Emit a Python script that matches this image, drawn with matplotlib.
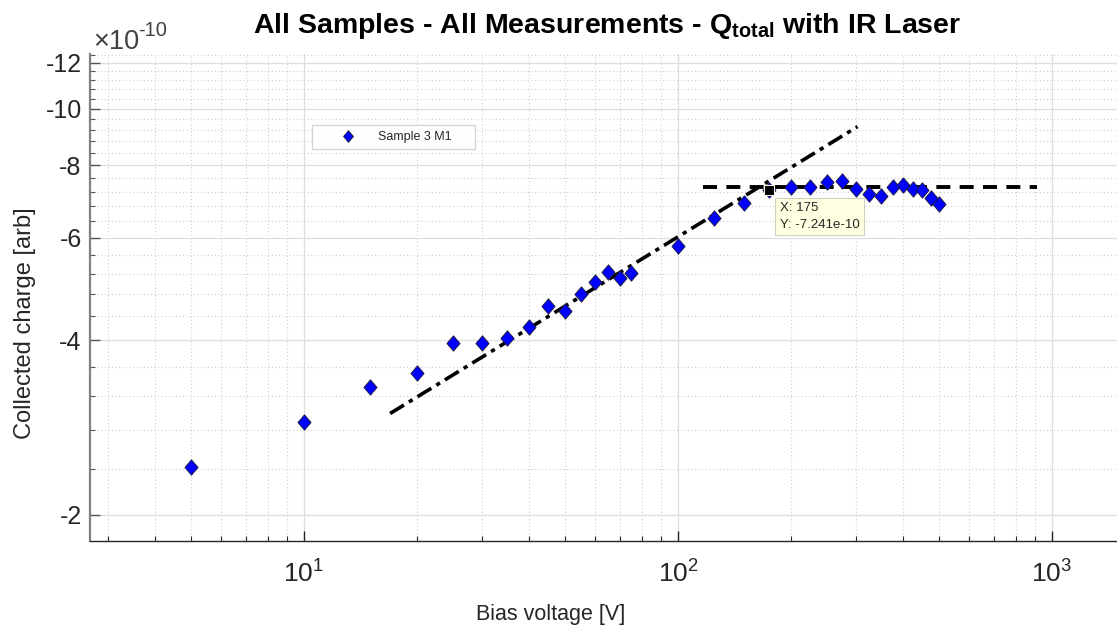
import numpy as np
import matplotlib
matplotlib.use("Agg")
import matplotlib.pyplot as plt
from matplotlib.ticker import FuncFormatter, NullFormatter, LogLocator, FixedLocator
from matplotlib.path import Path

plt.rcParams['font.family'] = ['Liberation Sans', 'DejaVu Sans']
plt.rcParams['mathtext.fontset'] = 'custom'
plt.rcParams['mathtext.rm'] = 'Liberation Sans'
plt.rcParams['mathtext.bf'] = 'Liberation Sans:bold'
plt.rcParams['mathtext.it'] = 'Liberation Sans:italic'

# ---------------- data ----------------
bias_voltage = [5, 10, 15, 20, 25, 30, 35, 40, 45, 50, 55, 60, 65, 70, 75,
                100, 125, 150, 175, 200, 225, 250, 275, 300, 325, 350, 375,
                400, 425, 450, 475, 500]
charge_e10 = [-2.42, -2.89, -3.32, -3.51, -3.95, -3.95, -4.03, -4.21, -4.58,
              -4.49, -4.81, -5.03, -5.24, -5.12, -5.22, -5.80, -6.49, -6.88,
              -7.241, -7.34, -7.35, -7.49, -7.50, -7.28, -7.13, -7.08, -7.34,
              -7.39, -7.28, -7.25, -7.03, -6.86]
fit_rise_x = [17, 302]
fit_rise_e10 = [-2.99, -9.32]
fit_plateau_x = [117, 910]
fit_plateau_e10 = [-7.35, -7.35]
tip_x = 175
tip_e10 = -7.241
y_major_e10 = [-2, -4, -6, -8, -10, -12]
legend_label = "Sample 3 M1"
scale = 1e-10

charge = np.array(charge_e10) * scale
# log axis of the magnitude (values are negative)
mag = -charge

W, H = 1117, 627
fig = plt.figure(figsize=(W / 100, H / 100), dpi=100)
ax = fig.add_axes([90 / W, 1 - 541 / H, 1 - 90 / W, (541 - 54) / H])
ax.set_xscale('log')
ax.set_yscale('log')
ax.set_xlim(2.68, 1492)
ax.set_ylim(1.804e-10, 12.43e-10)

# grid
ax.set_axisbelow(True)
ax.grid(True, which='major', color='#dedede', lw=0.9, ls='-')
ax.grid(True, which='minor', color='#cfcfcf', lw=0.8, ls=(0, (1, 2.2)))

diamond = Path([(0, 1), (0.85, 0), (0, -1), (-0.85, 0), (0, 1)],
               [Path.MOVETO, Path.LINETO, Path.LINETO, Path.LINETO, Path.CLOSEPOLY])

ax.plot(fit_rise_x, -np.array(fit_rise_e10) * scale, color='black', lw=2.6,
        ls=(0, (4.5, 1.6, 1.2, 1.6)), zorder=3)
ax.plot(fit_plateau_x, -np.array(fit_plateau_e10) * scale, color='black', lw=2.8,
        ls=(0, (3.6, 2.4)), zorder=3)
ax.plot(bias_voltage, mag, ls='none', marker=diamond, markersize=11,
        mfc='#0000ff', mec='#1a1a4a', mew=0.7, zorder=4, label=legend_label)

# data tip
ax.plot([tip_x], [-tip_e10 * scale], ls='none', marker='s', markersize=7,
        mfc='black', mec='#f5f5dc', mew=0.8, zorder=6)
ax.annotate(f"X: {tip_x}\nY: {tip_e10:.3f}e-10", xy=(tip_x, -tip_e10 * scale),
            xytext=(11, -12), textcoords='offset pixels', ha='left', va='top',
            fontsize=9.5, color='#262626', linespacing=1.5, zorder=7,
            bbox=dict(boxstyle='square,pad=0.35', fc='#ffffe1', ec='#d2d2c0', lw=0.8))

# ticks
ax.yaxis.set_major_locator(FixedLocator([-v * scale for v in y_major_e10]))
ax.yaxis.set_major_formatter(FuncFormatter(lambda v, p: f"{-v / scale:g}"))
ax.yaxis.set_minor_locator(FixedLocator(np.round(np.arange(1.6, 12.5, 0.4), 1) * scale))
ax.yaxis.set_minor_formatter(NullFormatter())
ax.xaxis.set_major_locator(LogLocator(base=10))
ax.xaxis.set_minor_locator(LogLocator(base=10, subs=np.arange(2, 10)))
ax.xaxis.set_minor_formatter(NullFormatter())
ax.tick_params(which='both', direction='in', labelsize=18, labelcolor='#262626')
ax.tick_params(axis='x', which='major', labelsize=19)
ax.tick_params(axis='y', which='major', length=7, width=1.0, color='#555555', pad=6)
ax.tick_params(axis='y', which='minor', length=3.6, width=0.8, color='#555555')
ax.tick_params(axis='x', which='major', length=7, width=1.0, color='#262626', pad=14)
ax.tick_params(axis='x', which='minor', length=3.6, width=0.8, color='#262626')

for s in ('top', 'right'):
    ax.spines[s].set_visible(False)
ax.spines['left'].set_color('#808080')
ax.spines['left'].set_linewidth(1.6)
ax.spines['bottom'].set_color('#262626')
ax.spines['bottom'].set_linewidth(1.0)

# texts
fig.text(607 / W, 1 - 33 / H,
         r"All Samples - All Measurements - Q$_{\mathbf{total}}$ with IR Laser",
         ha='center', va='baseline', fontsize=20.5, fontweight='bold', color='black')
fig.text(93 / W, 1 - 49 / H, "\u00d710", ha='left', va='baseline',
         fontsize=19.5, color='#404040')
fig.text(138 / W, 1 - 36 / H, "-10", ha='left', va='baseline',
         fontsize=14.5, color='#404040')
fig.text(25 / W, 1 - 323 / H, "Collected charge [arb]", rotation=90,
         ha='center', va='center', fontsize=17, color='#262626')
fig.text(551 / W, 1 - 620 / H, "Bias voltage [V]", ha='center', va='baseline',
         fontsize=15.5, color='#262626')

leg = ax.legend(loc='upper left', bbox_to_anchor=(312 / W, 1 - 126 / H, 163 / W, 0.001),
                bbox_transform=fig.transFigure, mode='expand', fontsize=9,
                frameon=True, fancybox=False, borderpad=0.45, handlelength=4.8,
                handletextpad=0.0, borderaxespad=0, markerscale=0.75)
leg.get_frame().set_edgecolor('#c8c8c8')
leg.get_frame().set_linewidth(0.9)
for t in leg.get_texts():
    t.set_color('#262626')

fig.savefig('out.png', dpi=100)
